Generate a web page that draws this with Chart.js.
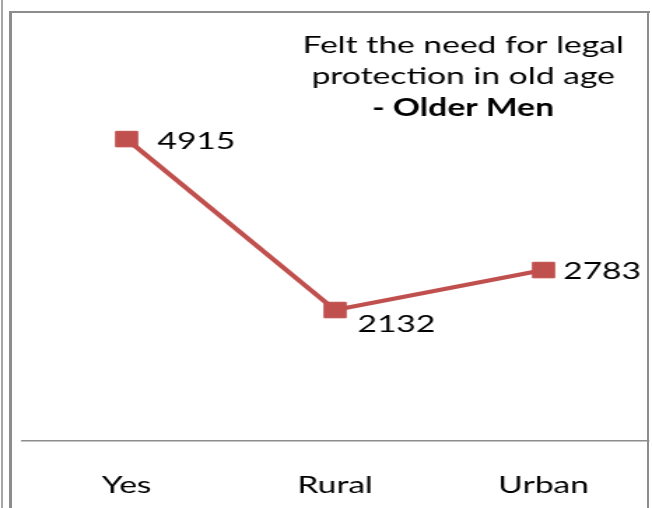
<!DOCTYPE html>
<html>
<head>
<meta charset="utf-8">
<script src="https://cdn.jsdelivr.net/npm/chart.js@4"></script>
<style>
  html, body { margin: 0; padding: 0; background: #fff; }
  #wrap { position: relative; width: 652px; height: 508px; overflow: hidden; }
  /* the original picture is stretched sideways, so the canvas is drawn narrow and shown wide */
  #chart { display: block; width: 652px; height: 508px; }
  .ln { position: absolute; background: #8c8c8c; }
</style>
</head>
<body>
<div id="wrap">
  <canvas id="chart" width="466" height="508" style="width:652px;height:508px"></canvas>
  <div class="ln" style="left:1px;top:0;width:2px;height:508px;background:#a6a6a6"></div>
  <div class="ln" style="left:9px;top:11px;width:3px;height:497px"></div>
  <div class="ln" style="left:9px;top:11px;width:641px;height:2px"></div>
  <div class="ln" style="left:647px;top:11px;width:2px;height:497px"></div>
</div>
<script>
// data
const categories = ['Yes', 'Rural', 'Urban']
const values = [4915, 2132, 2783]
const titleLines = ['Felt the need for legal', 'protection in old age', '- Older Men']

Chart.defaults.font.family = 'Lato'
Chart.defaults.color = '#000'

// number next to each point (offsets in canvas px)
const labelOffsets = [[22, 2], [16, 14], [14, 1]]
const valueLabels = {
    id: 'valueLabels',
    afterDatasetsDraw(chart) {
        const ctx = chart.ctx
        const pts = chart.getDatasetMeta(0).data
        ctx.save()
        ctx.font = '24px Lato'
        ctx.fillStyle = '#000'
        ctx.textAlign = 'left'
        ctx.textBaseline = 'middle'
        pts.forEach((p, i) => {
            ctx.fillText(String(values[i]), p.x + labelOffsets[i][0], p.y + labelOffsets[i][1])
        })
        ctx.restore()
    }
}

// title block sits inside the plot, top right
const titleBlock = {
    id: 'titleBlock',
    afterDraw(chart) {
        const ctx = chart.ctx
        const baselines = [53, 84, 116]
        ctx.save()
        ctx.fillStyle = '#000'
        ctx.textAlign = 'center'
        ctx.textBaseline = 'alphabetic'
        titleLines.forEach((t, i) => {
            ctx.font = (i == 2 ? 'bold ' : '') + '24px Lato'
            ctx.fillText(t, 331, baselines[i])
        })
        ctx.restore()
    }
}

new Chart(document.getElementById('chart'), {
    type: 'line',
    data: {
        labels: categories,
        datasets: [{
            data: values,
            borderColor: '#C0504D',
            backgroundColor: '#C0504D',
            borderWidth: 4,
            pointStyle: 'rect',
            pointRadius: 11,
            pointBorderWidth: 1,
            pointBackgroundColor: '#C0504D',
            pointBorderColor: '#C0504D',
            tension: 0
        }]
    },
    options: {
        responsive: false,
        animation: false,
        layout: {
            autoPadding: false,
            padding: {left: 16, right: 3, top: 11, bottom: 0}
        },
        plugins: {
            legend: {display: false},
            title: {display: false},
            tooltip: {enabled: false}
        },
        scales: {
            x: {
                offset: true,
                grid: {display: false, drawTicks: false},
                border: {display: true, color: '#8c8c8c', width: 1.5},
                ticks: {font: {size: 24}, padding: 30, color: '#000'},
                afterFit(scale) { scale.height = 67 }
            },
            y: {
                display: false,
                min: 0,
                max: 7000
            }
        }
    },
    plugins: [valueLabels, titleBlock]
});
</script>
</body>
</html>
